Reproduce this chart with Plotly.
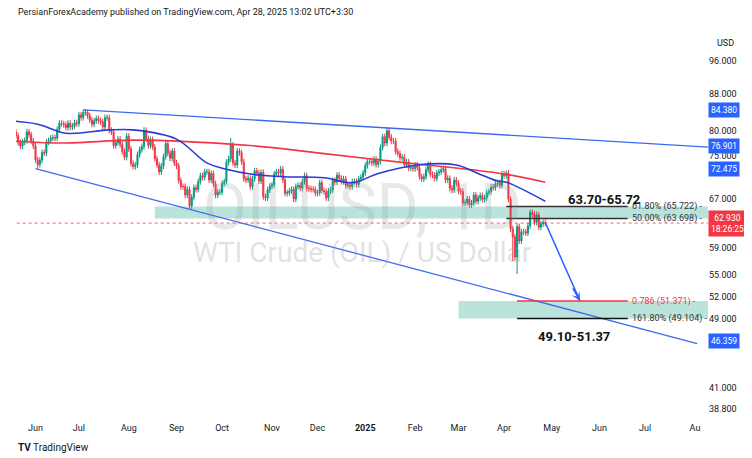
import numpy as np
import pandas as pd
import plotly.graph_objects as go

# daily closes, one per business day from 2024-05-13
closes = [
    79.1, 78.0, 79.2, 79.2, 80.0,
    79.8, 79.0, 77.6, 76.9, 77.7,
    78.0, 79.8, 79.2, 77.9, 76.9,
    74.2, 73.3, 74.1, 75.6, 75.5,
    77.7, 78.0, 78.5, 78.6, 78.5,
    80.3, 81.6, 81.5, 81.3, 80.7,
    81.6, 80.8, 81.0, 81.7, 81.5,
    83.4, 82.8, 83.9, 84.0, 83.2,
    82.3, 81.4, 82.1, 82.6, 82.2,
    81.9, 80.8, 82.8, 82.8, 80.1,
    79.8, 77.0, 77.6, 78.3, 77.2,
    75.8, 74.7, 78.9, 76.3, 73.5,
    72.9, 73.2, 75.2, 76.2, 76.8,
    80.1, 78.4, 77.0, 78.2, 76.7,
    74.4, 73.2, 71.9, 73.0, 74.8,
    77.4, 75.5, 74.5, 75.9, 73.6,
    73.0, 70.3, 69.2, 69.2, 67.7,
    68.7, 65.8, 67.3, 69.0, 68.7,
    70.1, 71.2, 70.9, 71.9, 71.9,
    70.4, 71.6, 69.7, 67.7, 68.2,
    68.2, 69.8, 70.1, 73.7, 74.4,
    77.1, 73.6, 73.2, 75.9, 75.6,
    73.8, 70.6, 70.4, 70.7, 69.2,
    70.6, 72.1, 71.7, 70.2, 71.8,
    67.4, 67.2, 68.6, 69.3, 69.5,
    71.5, 71.9, 71.7, 72.4, 70.4,
    68.0, 68.1, 68.4, 68.7, 67.0,
    69.2, 69.4, 68.9, 70.1, 71.2,
    68.9, 68.8, 68.7, 68.7, 68.0,
    68.1, 69.9, 68.5, 68.3, 67.2,
    68.4, 68.6, 70.3, 70.0, 71.3,
    70.7, 70.1, 70.6, 69.4, 69.5,
    69.2, 70.1, 70.1, 69.6, 70.6,
    70.9, 71.7, 73.1, 73.9, 73.9,
    73.6, 74.3, 73.3, 73.9, 76.6,
    78.8, 77.5, 80.0, 78.7, 77.9,
    77.9, 75.8, 75.4, 74.6, 74.7,
    73.2, 73.8, 72.6, 72.7, 72.5,
    73.2, 72.7, 71.0, 70.6, 71.0,
    72.3, 73.3, 71.4, 71.3, 70.7,
    71.7, 71.9, 72.3, 72.5, 70.4,
    70.7, 68.9, 68.6, 70.4, 69.8,
    68.4, 68.3, 66.3, 66.4, 67.0,
    66.0, 66.3, 67.7, 66.6, 67.2,
    67.6, 66.9, 67.2, 68.1, 68.3,
    69.1, 69.0, 69.7, 69.9, 69.4,
    71.5, 71.2, 71.7, 66.95, 61.99,
    60.7, 57.6, 62.35, 60.07, 61.5,
    61.53, 61.33, 62.47, 64.68, 64.4,
    63.08, 64.31, 62.27, 62.79, 63.02,
    62.93,
]
start_close = 78.6
low_overrides = {"2024-06-04": 72.5, "2024-09-10": 65.3, "2025-04-09": 55.12, "2025-04-07": 57.0}
high_overrides = {"2024-07-05": 84.5, "2024-10-07": 78.5, "2025-01-15": 80.8, "2025-04-02": 72.2}

# moving averages
ma_dates = ["2024-05-13", "2024-06-04", "2024-06-21", "2024-07-19", "2024-08-05", "2024-09-02",
            "2024-09-20", "2024-10-04", "2024-10-18", "2024-11-11", "2024-12-05", "2024-12-24",
            "2025-01-09", "2025-02-04", "2025-02-28", "2025-03-14", "2025-03-27", "2025-04-02", "2025-04-28"]
ma50 = [82.3, 81.4, 79.5, 80.2, 80.2, 78.3, 73.6, 72.3, 71.5, 71.0, 70.8, 69.9,
        71.6, 73.2, 73.2, 71.6, 70.2, 70.0, 66.6]
ma200_dates = ["2024-05-13", "2024-06-21", "2024-08-05", "2024-10-18", "2024-12-05",
               "2025-01-09", "2025-02-04", "2025-03-27", "2025-04-28"]
ma200 = [78.1, 77.5, 78.1, 77.0, 75.4, 74.2, 73.4, 71.7, 70.0]

upper_tl = (["2024-07-03", "2025-08-11"], [84.5, 76.7])
lower_tl = (["2024-06-03", "2025-08-04"], [72.5, 46.0])
fib_levels = [65.722, 63.698, 51.371, 49.104]
fib_labels = ["61.80% (65.722)", "50.00% (63.698)", "0.786 (51.371)", "161.80% (49.104)"]
arrow_pts = (["2025-04-28", "2025-05-20"], [63.0, 51.4])

dates = pd.bdate_range("2024-05-13", periods=len(closes))
c = np.array(closes)
o = np.concatenate([[start_close], c[:-1]])
h = np.maximum(o, c) * 1.008
l = np.minimum(o, c) * 0.992
ds = list(dates.strftime("%Y-%m-%d"))
for d, v in low_overrides.items():
    l[ds.index(d)] = v
for d, v in high_overrides.items():
    h[ds.index(d)] = v

GREEN, RED, BLUE, TEAL = "#089981", "#F23645", "#2962FF", "rgba(8,153,129,0.28)"
fig = go.Figure()
fig.add_trace(go.Candlestick(x=dates, open=o, high=h, low=l, close=c,
                             increasing=dict(line=dict(color=GREEN, width=1), fillcolor=GREEN),
                             decreasing=dict(line=dict(color=RED, width=1), fillcolor=RED),
                             whiskerwidth=0, showlegend=False, hoverinfo="skip"))
fig.add_trace(go.Scatter(x=ma200_dates, y=ma200, mode="lines", line=dict(color="#F23645", width=1.6, shape="spline"), showlegend=False))
fig.add_trace(go.Scatter(x=ma_dates, y=ma50, mode="lines", line=dict(color="#2A3BD8", width=1.6, shape="spline"), showlegend=False))
for tl in (upper_tl, lower_tl):
    fig.add_trace(go.Scatter(x=tl[0], y=tl[1], mode="lines", line=dict(color="#3D6BF0", width=1.3), showlegend=False))

# zones
fig.add_shape(type="rect", x0="2024-08-19", x1="2025-08-11", y0=fib_levels[1], y1=fib_levels[0],
              fillcolor=TEAL, line_width=0, layer="below")
fig.add_shape(type="rect", x0="2025-03-03", x1="2025-08-11", y0=fib_levels[3], y1=fib_levels[2],
              fillcolor=TEAL, line_width=0, layer="below")
fib_colors = ["#333", "#333", RED, "#111"]
fib_x0 = ["2025-04-02", "2025-04-02", "2025-04-09", "2025-04-09"]
for lv, lab, col, x0 in zip(fib_levels, fib_labels, fib_colors, fib_x0):
    fig.add_shape(type="line", x0=x0, x1="2025-06-19", y0=lv, y1=lv, line=dict(color=col, width=1.5))
    fig.add_annotation(x="2025-06-20", y=np.log10(lv), text=lab + " -", showarrow=False, xanchor="left",
                       font=dict(size=9, color=col if col == RED else "#333"))
fig.add_shape(type="line", x0=dates[0], x1="2025-08-11", y0=closes[-1], y1=closes[-1],
              line=dict(color=RED, width=0.8, dash="dot"))
fig.add_trace(go.Scatter(x=arrow_pts[0], y=arrow_pts[1], mode="lines", line=dict(color=BLUE, width=1.5), showlegend=False))
fig.add_annotation(x=arrow_pts[0][1], y=np.log10(arrow_pts[1][1]), ax=-8, ay=-14, showarrow=True,
                   arrowhead=3, arrowcolor=BLUE, arrowwidth=1.5, text="")
fig.add_annotation(x="2025-06-04", y=np.log10(67.0), text="<b>63.70-65.72</b>", showarrow=False,
                   font=dict(size=13, color="#111"))
fig.add_annotation(x="2025-05-15", y=np.log10(46.8), text="<b>49.10-51.37</b>", showarrow=False,
                   font=dict(size=13, color="#111"))

# watermark
fig.add_annotation(x=0.5, xref="paper", y=np.log10(65.5), text="OILUSD, 1D", showarrow=False,
                   font=dict(size=64, color="rgba(150,150,150,0.22)"))
fig.add_annotation(x=0.5, xref="paper", y=np.log10(58.3), text="WTI Crude (OIL) / US Dollar", showarrow=False,
                   font=dict(size=28, color="rgba(150,150,150,0.28)"))

# right axis badges
badges = [(84.38, "84.380", "#2962FF"), (76.901, "76.901", "#2962FF"), (72.475, "72.475", "#2962FF"),
          (62.93, "62.930<br>18:26:25", RED), (46.359, "46.359", "#2962FF")]
for v, t, col in badges:
    fig.add_annotation(x=1.0, xref="paper", y=np.log10(v), text=t, showarrow=False, xanchor="left",
                       bgcolor=col, font=dict(size=8.5, color="white"), borderpad=2)
fig.add_annotation(x=1.01, xref="paper", y=1.0, yref="paper", text="USD", showarrow=False, xanchor="left",
                   yanchor="top", font=dict(size=9, color="#131722"))
fig.add_annotation(x=0, xref="paper", y=1.0, yref="paper", yshift=31, text="PersianForexAcademy published on TradingView.com, Apr 28, 2025 13:02 UTC+3:30",
                   showarrow=False, xanchor="left", font=dict(size=9, color="#131722"))
fig.add_annotation(x=0, xref="paper", y=0, yref="paper", yshift=-34, text="<b>TV</b> TradingView",
                   showarrow=False, xanchor="left", font=dict(size=10, color="#131722"))

month_ticks = ["2024-06-03", "2024-07-01", "2024-08-01", "2024-09-02", "2024-10-01", "2024-11-01", "2024-12-02",
               "2025-01-01", "2025-02-03", "2025-03-03", "2025-04-01", "2025-05-01", "2025-06-02", "2025-07-01", "2025-08-01"]
month_text = ["Jun", "Jul", "Aug", "Sep", "Oct", "Nov", "Dec", "<b>2025</b>", "Feb", "Mar", "Apr", "May", "Jun", "Jul", "Au"]
price_ticks = [38.8, 41, 49, 52, 55, 59, 67, 75, 80, 88, 96]

fig.update_layout(
    width=752, height=458, margin=dict(l=8, r=52, t=28, b=45),
    paper_bgcolor="white", plot_bgcolor="white",
    font=dict(family="Roboto, Liberation Sans, sans-serif", size=9, color="#131722"),
    xaxis=dict(rangeslider=dict(visible=False), range=["2024-05-21", "2025-08-11"],
               rangebreaks=[dict(bounds=["sat", "mon"])], tickvals=month_ticks, ticktext=month_text,
               showgrid=False, ticks="", showline=False, zeroline=False),
    yaxis=dict(type="log", side="right", range=[np.log10(37.6), np.log10(102.4)], tickvals=price_ticks,
               ticktext=[f"{v:.3f}" for v in price_ticks], showgrid=False, zeroline=False, ticks=""),
)
fig.write_html("out.html")
